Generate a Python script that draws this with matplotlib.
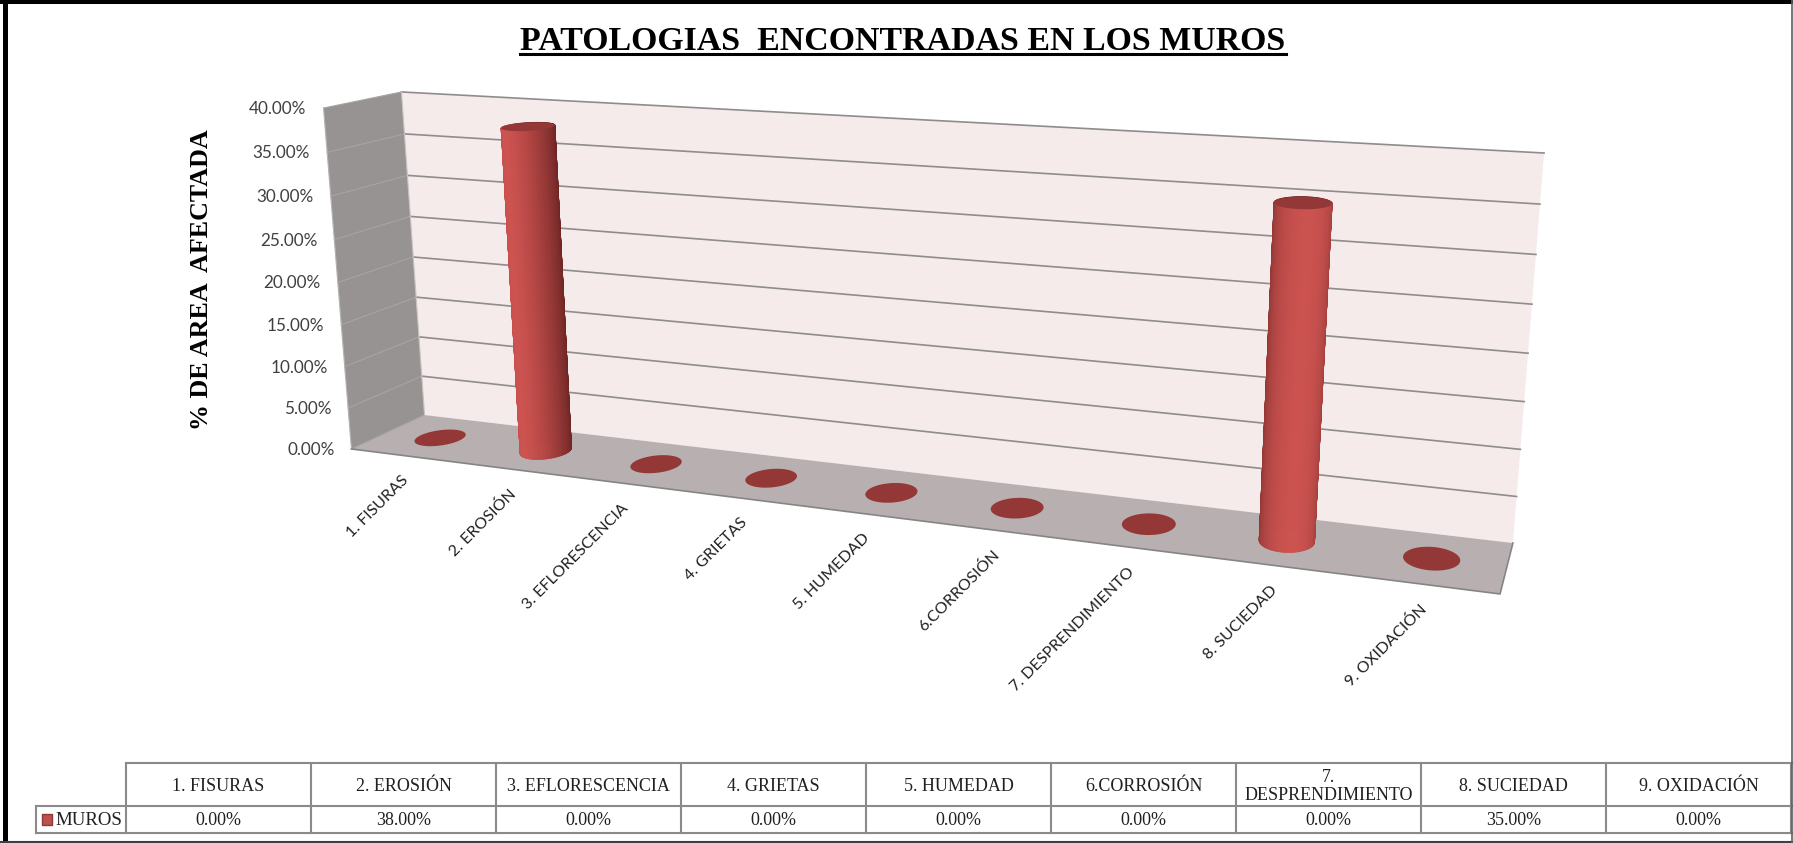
import numpy as np
import matplotlib
matplotlib.use("Agg")
import matplotlib.pyplot as plt
from matplotlib.collections import PolyCollection

categorias = ["1. FISURAS", "2. EROSIÓN", "3. EFLORESCENCIA", "4. GRIETAS", "5. HUMEDAD",
              "6.CORROSIÓN", "7. DESPRENDIMIENTO", "8. SUCIEDAD", "9. OXIDACIÓN"]
categorias_tabla = ["1. FISURAS", "2. EROSIÓN", "3. EFLORESCENCIA", "4. GRIETAS", "5. HUMEDAD",
                    "6.CORROSIÓN", "7.\nDESPRENDIMIENTO", "8. SUCIEDAD", "9. OXIDACIÓN"]
muros = [0.0, 38.0, 0.0, 0.0, 0.0, 0.0, 0.0, 35.0, 0.0]
ticks = [0, 5, 10, 15, 20, 25, 30, 35, 40]
serie = "MUROS"
titulo = "PATOLOGIAS  ENCONTRADAS EN LOS MUROS"
ylabel = "% DE AREA  AFECTADA"

W, H = 1793, 843
ymax = ticks[-1]

serif = "Liberation Serif"
sans = "Lato"

fig = plt.figure(figsize=(W / 100, H / 100), dpi=100, facecolor="white")
ax = fig.add_axes([0, 0, 1, 1])
ax.set_xlim(0, W)
ax.set_ylim(H, 0)
ax.axis("off")

#%% Camara: (u, v, z) -> pixeles, ajustada con las esquinas de la caja 3D
mundo = [(0, 0, 0), (1, 0, 0), (1, 1, 0), (0, 1, 0), (0, 0, 1), (0, 1, 1), (1, 1, 1)]
pix = [(352, 449), (1500, 594), (1513, 543), (424, 415), (323, 108), (402, 92), (1544, 153)]

A, b = [], []
for (u, v, z), (x, y) in zip(mundo, pix):
    A.append([u, v, z, 1, 0, 0, 0, 0, -x * u, -x * v, -x * z])
    A.append([0, 0, 0, 0, u, v, z, 1, -y * u, -y * v, -y * z])
    b += [x, y]
p = np.linalg.lstsq(np.array(A, float), np.array(b, float), rcond=None)[0]


def proy(u, v, z):
    u, v, z = np.asarray(u, float), np.asarray(v, float), np.asarray(z, float)
    w = p[8] * u + p[9] * v + p[10] * z + 1
    return (p[0] * u + p[1] * v + p[2] * z + p[3]) / w, (p[4] * u + p[5] * v + p[6] * z + p[7]) / w


def poligono(us, vs, zs, **kw):
    x, y = proy(us, vs, zs)
    ax.fill(x, y, **kw)


# paredes y piso
poligono([0, 1, 1, 0], [1, 1, 1, 1], [0, 0, 1, 1], color="#F5EBEB", lw=0, zorder=1)
poligono([0, 0, 0, 0], [0, 1, 1, 0], [0, 0, 1, 1], color="#989393", lw=0, zorder=1)
poligono([0, 1, 1, 0], [0, 0, 1, 1], [0, 0, 0, 0], color="#B8B0B0", lw=0, zorder=1)

for t in ticks:
    z = t / ymax
    if t > 0:
        x, y = proy([0, 1], [1, 1], [z, z])
        ax.plot(x, y, color="#8E8C8C", lw=1.2, zorder=2)
    x, y = proy([0, 0], [0, 1], [z, z])
    ax.plot(x, y, color="#A8A4A4", lw=0.8, zorder=2)
    x, y = proy(0, 0, z)
    ax.text(x - 17, y + 1, f"{t:.2f}%", ha="right", va="center", fontsize=12.3, family=sans, color="#404040", zorder=6)

x, y = proy([0, 0], [1, 1], [0, 1])
ax.plot(x, y, color="#C9C4C4", lw=0.8, zorder=2)
x, y = proy([0, 0], [0, 0], [0, 1])
ax.plot(x, y, color="#B5B2B2", lw=0.8, zorder=2)
x, y = proy([0, 1, 1], [0, 0, 1], [0, 0, 0])
ax.plot(x, y, color="#858585", lw=1.2, zorder=2)

#%% Cilindros
ru, rv = 0.0212, 0.23
oscuro = np.array([0x66, 0x22, 0x21]) / 255
claro = np.array([0xCC, 0x53, 0x50]) / 255
th = np.linspace(0, 2 * np.pi, 181)

for i, val in enumerate(muros):
    uc = (i + 0.5) / len(muros)
    z = val / ymax
    us = uc + ru * np.cos(th)
    vs = 0.5 + rv * np.sin(th)
    if val > 0:
        # luz frente al grafico, cada barra iluminada hacia afuera
        lx = (uc - 0.5) * 1.2
        nl = np.hypot(lx, 1)
        caras, cols, orden = [], [], []
        for k in range(len(th) - 1):
            xa, ya = proy(us[k:k + 2], vs[k:k + 2], [0, 0])
            xb, yb = proy(us[k:k + 2], vs[k:k + 2], [z, z])
            caras.append([(xa[0], ya[0]), (xa[1], ya[1]), (xb[1], yb[1]), (xb[0], yb[0])])
            tm = 0.5 * (th[k] + th[k + 1])
            s = (np.cos(tm) * lx - np.sin(tm)) / nl
            cols.append(oscuro + (claro - oscuro) * (0.5 + 0.5 * s) ** 1.1)
            orden.append(-np.sin(tm))
        idx = np.argsort(orden)
        col = PolyCollection([caras[j] for j in idx], facecolors=[cols[j] for j in idx],
                             edgecolors="face", linewidths=0.6, zorder=3)
        ax.add_collection(col)
    x, y = proy(us, vs, np.full_like(us, z))
    ax.fill(x, y, color="#933837", lw=0, zorder=4)

# etiquetas del eje x
for i, cat in enumerate(categorias):
    x, y = proy((i + 0.5) / len(categorias), 0, 0)
    ax.text(x - 3, y + 17.5, cat, rotation=45, rotation_mode="anchor", ha="right", va="top",
            fontsize=11.5, family=sans, color="#202020", zorder=6)

#%% Titulos
tt = ax.text(903, 41, titulo, ha="center", va="center", fontsize=24.4, family=serif, weight="bold", color="black")
bb = tt.get_window_extent(fig.canvas.get_renderer())
ax.plot([bb.x0, bb.x1], [54, 54], color="black", lw=2.2)
ax.text(201, 280, ylabel, rotation=90, ha="center", va="center", fontsize=18.7, family=serif, weight="bold", color="black")

#%% Tabla de datos
cols_x = np.linspace(126, 1791, len(muros) + 1)
y0, y1, y2 = 763, 806, 833
gris = "#8A8A8A"
ax.plot([cols_x[0], W], [y0, y0], color=gris, lw=1.5)
ax.plot([36, W], [y1, y1], color=gris, lw=1.5)
ax.plot([36, W], [y2, y2], color=gris, lw=1.5)
ax.plot([36, 36], [y1, y2], color=gris, lw=1.5)
for xc in cols_x:
    ax.plot([xc, xc], [y0, y2], color=gris, lw=1.5)
for i, (cat, val) in enumerate(zip(categorias_tabla, muros)):
    xm = 0.5 * (cols_x[i] + cols_x[i + 1])
    ax.text(xm, 0.5 * (y0 + y1) + 2, cat, ha="center", va="center", fontsize=13, family=serif,
            color="#202020", linespacing=1.0)
    ax.text(xm, 0.5 * (y1 + y2) + 1, f"{val:.2f}%", ha="center", va="center", fontsize=13, family=serif, color="#202020")
ax.fill([42, 52, 52, 42], [814, 814, 825, 825], facecolor="#C0504D", edgecolor="#8B3A38", lw=1)
ax.text(55, 0.5 * (y1 + y2) + 1, serie, ha="left", va="center", fontsize=13.6, family=serif, color="#202020")

#%% Marco
ax.plot([4.5, 4.5], [0, H], color="black", lw=3.6)
ax.plot([0, W], [2, 2], color="black", lw=2.9)
ax.plot([0, W], [842, 842], color="#404040", lw=1.5)
ax.plot([W - 1, W - 1], [0, H], color="#606060", lw=1.2)

fig.savefig("out.png", dpi=100)
